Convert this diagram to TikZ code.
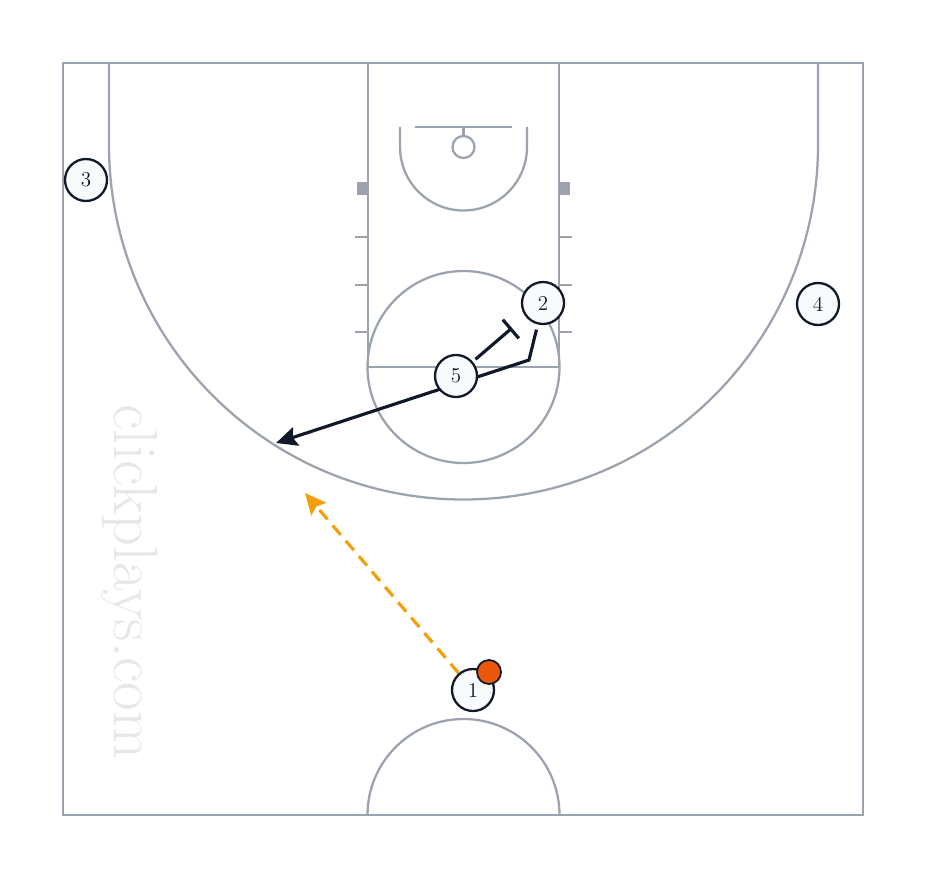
\documentclass[tikz,border=0pt]{standalone}
\usetikzlibrary{arrows.meta}
\definecolor{courtgray}{HTML}{9CA3AF}
\definecolor{inkdark}{HTML}{111827}
\definecolor{playerfill}{HTML}{F8FAFC}
\definecolor{ballorange}{HTML}{EA580C}
\definecolor{passorange}{HTML}{F59E0B}
\definecolor{markgray}{HTML}{E5E7EB}
\pgfdeclarelayer{court}
\pgfdeclarelayer{moves}
\pgfsetlayers{court,moves,main}
\tikzset{
  courtline/.style={courtgray, line width=1.3pt},
  player/.style={circle, draw=inkdark, fill=playerfill, line width=1.3pt, minimum size=0.84cm, inner sep=0pt, font=\fontsize{12}{12}\selectfont, text=inkdark},
  cut/.style={inkdark, line width=1.8pt, -{Stealth[length=12pt,width=11pt,inset=2pt]}},
  screen/.style={inkdark, line width=1.8pt, -{Bar[width=14pt,line width=1.8pt]}},
  pass/.style={passorange, line width=1.8pt, dash pattern=on 7pt off 4.5pt, -{Stealth[length=12pt,width=11pt,inset=2pt]}}
}
\begin{document}
\begin{tikzpicture}[x=0.02cm, y=0.02cm]
\useasboundingbox (0,0) rectangle (928,880);
\begin{pgfonlayer}{court}
                \draw[courtline] (63,65) rectangle (863,817);
                \draw[courtline] (109,817) -- (109,735) arc (180:360:354.5) -- (818,817);
                \draw[courtline] (368,817) -- (368,513) -- (559,513) -- (559,817);
                \draw[courtline] (463.5,513) circle (96);
                \draw[courtline] (367.5,65) arc (180:0:96);
                % basket
                \draw[courtline] (415,753) -- (512,753);
                \draw[courtline] (463.5,753) -- (463.5,744);
                \draw[courtline] (463.5,733) circle (11);
                \draw[courtline] (400,753) -- (400,733) arc (180:360:63.5) -- (527,733) -- (527,753);
                % lane marks
                \fill[courtgray] (357,685) rectangle (368,698);
                \fill[courtgray] (559,685) rectangle (570,698);
                \foreach \y in {643,595,548} {
                  \draw[courtline] (355,\y) -- (368,\y);
                  \draw[courtline] (559,\y) -- (572,\y);
                }
                \node[rotate=-90, text=markgray, font=\fontsize{35.5}{36}\selectfont] (mark) at (130,298) {clickplays.com};
\end{pgfonlayer}
                \node[player] (p3) at (86,700) {3};
                \node[player] (p4) at (818,576) {4};
                \node[player] (p2) at (543,577) {2};
                \node[player] (p5) at (456,504) {5};
                \node[player] (p1) at (473,190) {1};
                \node[circle, draw=inkdark, fill=ballorange, line width=1pt, minimum size=0.48cm, inner sep=0pt] (ball) at (489,208) {};
                \coordinate (turn) at (529,520);
                \coordinate (cutend) at (276,437);
                \coordinate (screenend) at (512,552);
                \coordinate (passend) at (305,387);
\begin{pgfonlayer}{moves}
                \draw[cut, shorten <=3pt] (p2) -- (turn) -- (cutend);
                \draw[screen, shorten <=2pt] (p5) -- (screenend);
                \draw[pass] (p1) -- (passend);
\end{pgfonlayer}
\end{tikzpicture}
\end{document}
